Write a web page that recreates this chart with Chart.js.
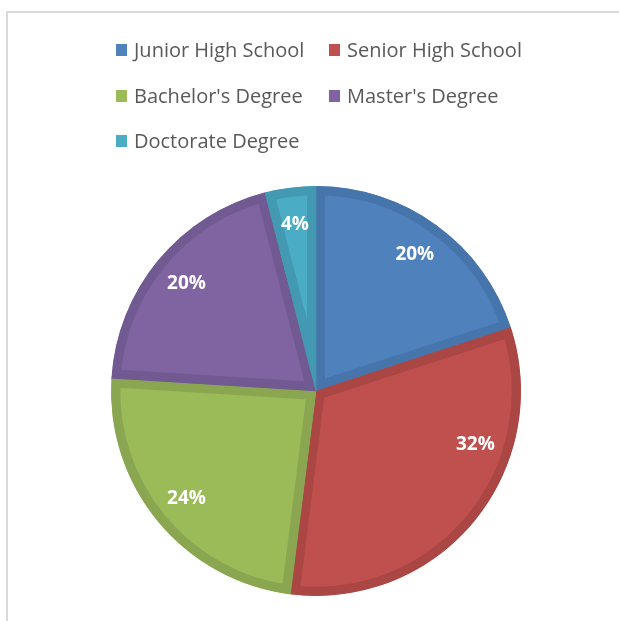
<!DOCTYPE html>
<html>
<head>
<meta charset="utf-8">
<title>Education Level</title>
<script src="https://cdn.jsdelivr.net/npm/chart.js@4/dist/chart.umd.min.js"></script>
<style>
  html, body { margin: 0; padding: 0; background: #fff; overflow: hidden; }
  #wrap { position: relative; width: 619px; height: 621px; }
  #frame {
    position: absolute; left: 6px; top: 11px; width: 700px; height: 700px;
    border-left: 2px solid #d9d9d9; border-top: 2px solid #d9d9d9;
  }
  #chart { position: absolute; left: 0; top: 0; }
  #legend {
    position: absolute; left: 116px; top: 41px;
    display: grid; grid-template-columns: 213px auto; grid-auto-rows: 45.5px;
    font-family: "Open Sans", sans-serif; font-size: 20px; color: #595959;
  }
  #legend .item { display: flex; align-items: flex-start; white-space: nowrap; }
  #legend .box { width: 11px; height: 12px; margin: 3px 7px 0 0; flex: none; }
  #legend .txt { line-height: 18px; }
</style>
</head>
<body>
<div id="wrap">
  <div id="frame"></div>
  <canvas id="chart" width="619" height="621"></canvas>
  <div id="legend"></div>
</div>
<script>
// --- data ---
const levels = ['Junior High School', 'Senior High School', "Bachelor's Degree", "Master's Degree", 'Doctorate Degree'];
const shares = [20, 32, 24, 20, 4];

// Office-style palette: fill + darker edge
const fills = ['#4F81BD', '#C0504D', '#9BBB59', '#8064A2', '#4BACC6'];
const edges = ['#4675AC', '#AA4744', '#8AA650', '#715A91', '#4299B1'];

// label placement: radial fraction and small angle nudges (degrees)
const labelRadius = 0.82;
const labelNudge = [0, -21, 0, 0, 0];

// --- percentage labels drawn inside the slices ---
const sliceLabels = {
  id: 'sliceLabels',
  afterDatasetsDraw(chart) {
    const { ctx } = chart;
    const meta = chart.getDatasetMeta(0);
    ctx.save();
    ctx.fillStyle = '#ffffff';
    ctx.font = 'bold 19px "Open Sans", sans-serif';
    ctx.textAlign = 'center';
    ctx.textBaseline = 'middle';
    meta.data.forEach((arc, i) => {
      const p = arc.getProps(['x', 'y', 'startAngle', 'endAngle', 'outerRadius'], true);
      const mid = (p.startAngle + p.endAngle) / 2 + labelNudge[i] * Math.PI / 180;
      const r = p.outerRadius * labelRadius;
      ctx.fillText(shares[i] + '%', p.x + Math.cos(mid) * r, p.y + Math.sin(mid) * r);
    });
    ctx.restore();
  }
};

const chart = new Chart(document.getElementById('chart'), {
  type: 'pie',
  data: {
    labels: levels,
    datasets: [{
      data: shares,
      backgroundColor: fills,
      borderColor: edges,
      borderWidth: 9,
      borderAlign: 'inner',
      borderJoinStyle: 'miter',
      hoverOffset: 0
    }]
  },
  options: {
    responsive: false,
    animation: false,
    layout: { padding: { left: 111, right: 98, top: 186, bottom: 25 } },
    plugins: {
      legend: { display: false },
      tooltip: { enabled: false }
    }
  },
  plugins: [sliceLabels]
});

// --- legend (two-column grid) ---
const legendEl = document.getElementById('legend');
levels.forEach((name, i) => {
  const item = document.createElement('div');
  item.className = 'item';
  item.innerHTML = `<span class="box" style="background:${fills[i]}"></span><span class="txt">${name}</span>`;
  legendEl.appendChild(item);
});
</script>
</body>
</html>
